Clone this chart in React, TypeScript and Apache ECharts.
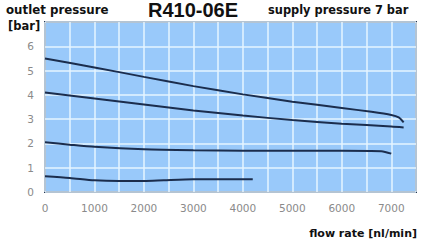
import React, { useEffect, useRef } from "react";
import * as echarts from "echarts";

const curveA: [number, number][] = [
  [0, 5.5], [1000, 5.13], [2000, 4.74], [3000, 4.36], [4000, 4.02], [5000, 3.72],
  [6000, 3.46], [6600, 3.3], [7000, 3.17], [7150, 3.07], [7250, 2.87],
];
const curveB: [number, number][] = [
  [0, 4.1], [1000, 3.85], [2000, 3.6], [3000, 3.36], [4000, 3.15], [5000, 2.96],
  [6000, 2.81], [7000, 2.7], [7250, 2.66],
];
const curveC: [number, number][] = [
  [0, 2.05], [500, 1.95], [1000, 1.86], [2000, 1.76], [3000, 1.72], [4000, 1.7],
  [5000, 1.7], [6000, 1.7], [6800, 1.68], [7000, 1.58],
];
const curveD: [number, number][] = [
  [0, 0.65], [500, 0.58], [1000, 0.48], [1500, 0.45], [2000, 0.45], [2400, 0.48],
  [3000, 0.52], [4200, 0.53],
];

const title = "R410-06E";
const yTitle = "outlet pressure";
const yUnit = "[bar]";
const supply = "supply pressure 7 bar";
const xTitle = "flow rate [nl/min]";

const ARIAL = "Liberation Sans, Arial, sans-serif";
const WIDE = "DejaVu Sans, Verdana, sans-serif";
const LINE = "#1b2d4d";

export default function App() {
  const ref = useRef<HTMLDivElement>(null);
  useEffect(() => {
    if (!ref.current) return;
    const chart = echarts.init(ref.current, null, { renderer: "svg" });
    const mk = (data: [number, number][]) => ({
      type: "line",
      data,
      smooth: 0.25,
      showSymbol: false,
      symbol: "none",
      lineStyle: { color: LINE, width: 2 },
    });
    chart.setOption({
      animation: false,
      backgroundColor: "#ffffff",
      grid: {
        left: 45,
        right: 6,
        top: 22,
        bottom: 56,
        show: true,
        backgroundColor: "#99c9fa",
        borderColor: "#23344f",
        borderWidth: 2,
        containLabel: false,
      },
      xAxis: {
        type: "value",
        min: 0,
        max: 7500,
        interval: 500,
        axisLine: { show: false },
        axisTick: { show: false },
        splitLine: { show: true, lineStyle: { color: "#e6f4ff", width: 1.5 } },
        axisLabel: {
          color: "#8a8a8a",
          fontFamily: WIDE,
          fontSize: 10.5,
          margin: 10,
          showMaxLabel: false,
          formatter: (v: number) => (v % 1000 === 0 ? String(v) : ""),
        },
      },
      yAxis: {
        type: "value",
        min: 0,
        max: 7,
        interval: 1,
        axisLine: { show: false },
        axisTick: { show: false },
        splitLine: { show: true, lineStyle: { color: "#e6f4ff", width: 1.5 } },
        axisLabel: {
          color: "#8a8a8a",
          fontFamily: WIDE,
          fontSize: 10.5,
          margin: 11,
          formatter: (v: number) => (v >= 7 ? "" : String(v)),
        },
      },
      graphic: [
        { type: "text", left: 6, top: 4, style: { text: yTitle, font: `bold 11.8px ${WIDE}`, fill: "#111" } },
        { type: "text", left: 8, top: 20, style: { text: yUnit, font: `bold 11.5px ${WIDE}`, fill: "#111" } },
        { type: "text", left: 148, top: 0, style: { text: title, font: `bold 20px ${ARIAL}`, fill: "#111" } },
        { type: "text", left: 268, top: 4, style: { text: supply, font: `bold 11.4px ${WIDE}`, fill: "#111" } },
        { type: "text", right: 5, top: 228, style: { text: xTitle, font: `bold 11px ${WIDE}`, fill: "#111" } },
      ],
      series: [mk(curveA), mk(curveB), mk(curveC), mk(curveD)],
    });
    return () => chart.dispose();
  }, []);
  return <div ref={ref} style={{ width: 422, height: 248, position: "absolute", left: 0, top: 0 }} />;
}
